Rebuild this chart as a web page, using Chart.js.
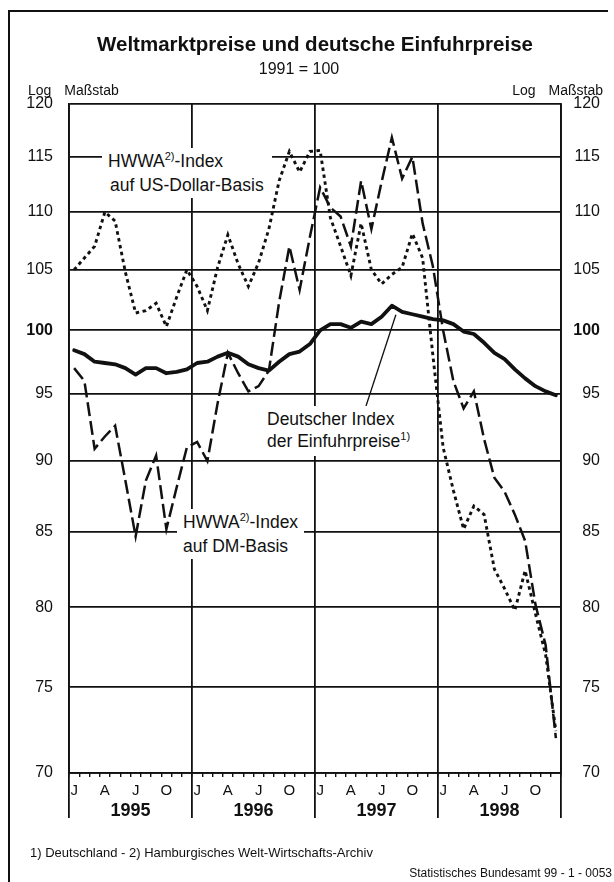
<!DOCTYPE html>
<html lang="de">
<head>
<meta charset="utf-8">
<title>Weltmarktpreise und deutsche Einfuhrpreise</title>
<script src="https://cdn.jsdelivr.net/npm/chart.js@4.4.1/dist/chart.umd.min.js"></script>
<style>
  html, body { margin: 0; padding: 0; background: #fff; }
  body {
    width: 614px; height: 882px; position: relative; overflow: hidden;
    font-family: "Liberation Sans", Arial, sans-serif; color: #111;
  }
  #frame {
    position: absolute; left: 8px; top: 10px; width: 598px; height: 880px;
    border-top: 2px solid #111; border-left: 2px solid #111;
  }
  #wrap { position: absolute; left: 0; top: 0; width: 614px; height: 882px; }
  .t { position: absolute; white-space: nowrap; line-height: 1; }
  .lbl {
    position: absolute; white-space: nowrap; background: #fff;
    font-size: 17.5px; line-height: 22px; padding: 2px 6px 2px 6px;
  }
  .sup { font-size: 11px; position: relative; top: -7px; }
</style>
</head>
<body>
<div id="frame"></div>
<div id="wrap"><canvas id="chartWeltmarkt"></canvas></div>

<div class="t" style="left:0;width:630px;text-align:center;top:34px;font-size:20.5px;font-weight:bold;">Weltmarktpreise und deutsche Einfuhrpreise</div>
<div class="t" style="left:0;width:598px;text-align:center;top:61px;font-size:16px;">1991 = 100</div>
<div class="t" style="left:28px;top:83px;font-size:14px;word-spacing:9px;">Log Maßstab</div>
<div class="t" style="right:11px;top:83px;font-size:14px;word-spacing:9px;">Log Maßstab</div>

<div class="lbl" id="lblUsd" style="left:102px;top:148px;padding-right:8px;">HWWA<span class="sup">2)</span>-Index<br><span style="padding-left:2px">auf US-Dollar-Basis</span></div>
<div class="lbl" id="lblEinfuhr" style="left:261px;top:406px;">Deutscher Index<br>der Einfuhrpreise<span class="sup">1)</span></div>
<div class="lbl" id="lblDm" style="left:177px;top:509px;">HWWA<span class="sup">2)</span>-Index<br>auf DM-Basis</div>

<div class="t" style="left:30px;top:846px;font-size:13px;">1) Deutschland - 2) Hamburgisches Welt-Wirtschafts-Archiv</div>
<div class="t" style="right:2px;top:867px;font-size:12px;">Statistisches Bundesamt 99 - 1 - 0053</div>

<script>
const INK = '#111';

// Monate Jan 1995 bis Dez 1998
const MONTH_LETTERS = ['J', '', '', 'A', '', '', 'J', '', '', 'O', '', ''];
const YEARS = ['1995', '1996', '1997', '1998'];
const Y_TICKS = [70, 75, 80, 85, 90, 95, 100, 105, 110, 115, 120];

// Deutscher Index der Einfuhrpreise
const einfuhrpreise = [
  98.4, 98.1, 97.5, 97.4, 97.3, 97.0, 96.5, 97.0, 97.0, 96.6, 96.7, 96.9,
  97.4, 97.5, 97.9, 98.2, 97.9, 97.3, 97.0, 96.8, 97.5, 98.1, 98.3, 98.9,
  100.0, 100.5, 100.5, 100.2, 100.7, 100.5, 101.1, 102.0, 101.5, 101.3, 101.1, 100.9,
  100.8, 100.5, 99.9, 99.7, 99.0, 98.2, 97.7, 96.9, 96.2, 95.6, 95.2, 94.9,
];

// HWWA-Index auf US-Dollar-Basis
const hwwaDollar = [
  105.0, 106.0, 107.0, 110.0, 109.2, 104.8, 101.4, 101.6, 102.2, 100.3, 102.7, 105.0,
  103.6, 101.6, 105.2, 108.0, 105.5, 103.6, 105.6, 108.5, 112.8, 115.5, 113.6, 115.5,
  115.6, 109.5, 107.0, 104.5, 109.0, 105.0, 103.8, 104.6, 105.2, 108.1, 106.0, 98.0,
  91.0, 87.9, 85.2, 86.8, 86.2, 82.5, 81.2, 79.8, 82.4, 79.6, 77.0, 72.4,
];

// HWWA-Index auf DM-Basis
const hwwaDm = [
  97.0, 96.0, 90.9, 91.8, 92.6, 88.6, 84.7, 88.6, 90.4, 85.2, 88.1, 91.0,
  91.4, 90.0, 94.3, 98.2, 96.6, 95.2, 95.6, 96.8, 102.3, 107.0, 103.3, 107.8,
  112.2, 110.4, 109.6, 107.0, 112.8, 108.5, 112.7, 116.8, 113.0, 115.0, 109.0, 105.3,
  100.0, 96.0, 93.9, 95.2, 91.6, 88.8, 87.8, 86.2, 84.4, 80.2, 77.6, 72.0,
];

Chart.defaults.font.family = '"Liberation Sans", Arial, sans-serif';
Chart.defaults.color = INK;

const toPoints = (values) => values.map((v, i) => ({ x: i + 0.5, y: v }));
const monthCount = einfuhrpreise.length;

// Hinweislinie vom Gipfel der Einfuhrpreise zur Beschriftung
const leaderLine = {
  id: 'leaderLine',
  afterDatasetsDraw(chart) {
    const { ctx, scales } = chart;
    const peak = einfuhrpreise.indexOf(Math.max(...einfuhrpreise));
    const x1 = scales.x.getPixelForValue(peak + 0.5) + 4;
    const y1 = scales.y.getPixelForValue(einfuhrpreise[peak]) + 9;
    const box = document.getElementById('lblEinfuhr').getBoundingClientRect();
    ctx.save();
    ctx.strokeStyle = INK;
    ctx.lineWidth = 1.3;
    ctx.beginPath();
    ctx.moveTo(x1, y1);
    ctx.lineTo(box.left + 105, box.top);
    ctx.stroke();
    ctx.restore();
  },
};

const logAxis = (position) => ({
  type: 'logarithmic',
  position,
  min: 70,
  max: 120,
  afterBuildTicks: (scale) => { scale.ticks = Y_TICKS.map((value) => ({ value })); },
  afterFit: (scale) => { scale.width = position === 'left' ? 60 : 39; },
  ticks: {
    padding: position === 'left' ? 16 : 10,
    crossAlign: position === 'left' ? 'near' : 'far',
    color: INK,
    font: (c) => ({ size: 16, weight: c.tick && c.tick.value === 100 ? 'bold' : 'normal' }),
    callback: (value) => String(value),
  },
  grid: {
    display: position === 'left',
    color: INK,
    lineWidth: 1.8,
    drawTicks: false,
  },
  border: { color: INK, width: 1.8 },
});

new Chart(document.getElementById('chartWeltmarkt').getContext('2d'), {
  type: 'line',
  data: {
    datasets: [
      {
        label: 'Deutscher Index der Einfuhrpreise',
        data: toPoints(einfuhrpreise),
        borderColor: INK,
        borderWidth: 3.8,
        borderJoinStyle: 'round',
        borderCapStyle: 'round',
        pointRadius: 0,
      },
      {
        label: 'HWWA-Index auf US-Dollar-Basis',
        data: toPoints(hwwaDollar),
        borderColor: INK,
        borderWidth: 2.9,
        borderDash: [3.5, 3.5],
        pointRadius: 0,
      },
      {
        label: 'HWWA-Index auf DM-Basis',
        data: toPoints(hwwaDm),
        borderColor: INK,
        borderWidth: 2.5,
        borderDash: [14, 5],
        pointRadius: 0,
      },
    ],
  },
  options: {
    responsive: true,
    maintainAspectRatio: false,
    animation: false,
    events: [],
    layout: { padding: { left: 9, right: 14, top: 104, bottom: 109 } },
    scales: {
      x: {
        type: 'linear',
        position: 'bottom',
        min: 0,
        max: monthCount,
        afterBuildTicks: (scale) => {
          scale.ticks = Array.from({ length: monthCount + 1 }, (_, i) => ({ value: i }));
        },
        afterFit: (scale) => { scale.height = 0; },
        ticks: { display: false },
        grid: {
          color: (c) => (c.tick && c.tick.value % 12 === 0 ? INK : 'rgba(0,0,0,0)'),
          lineWidth: 1.8,
          drawTicks: false,
        },
        border: { color: INK, width: 1.8 },
      },
      xMonate: {
        type: 'linear',
        position: { y: 70 },
        min: 0,
        max: monthCount,
        afterBuildTicks: (scale) => {
          scale.ticks = Array.from({ length: monthCount }, (_, i) => ({ value: i + 0.5 }));
        },
        ticks: {
          autoSkip: false,
          maxRotation: 0,
          padding: 5,
          color: INK,
          font: { size: 15 },
          callback: (value, index) => MONTH_LETTERS[index % 12],
        },
        grid: { offset: true, drawOnChartArea: false, tickLength: 4, color: INK, lineWidth: 1.4 },
        border: { display: false },
      },
      xJahre: {
        type: 'linear',
        position: { y: 70 },
        min: 0,
        max: monthCount,
        afterBuildTicks: (scale) => {
          scale.ticks = YEARS.map((_, k) => ({ value: 12 * k + 6 }));
        },
        ticks: {
          autoSkip: false,
          maxRotation: 0,
          padding: -18,
          color: INK,
          font: { size: 18, weight: 'bold' },
          callback: (value, index) => YEARS[index],
        },
        grid: { offset: true, drawOnChartArea: false, tickLength: 45, color: INK, lineWidth: 1.8 },
        border: { display: false },
      },
      y: logAxis('left'),
      y2: logAxis('right'),
    },
    plugins: {
      legend: { display: false },
      tooltip: { enabled: false },
    },
  },
  plugins: [leaderLine],
});
</script>
</body>
</html>
